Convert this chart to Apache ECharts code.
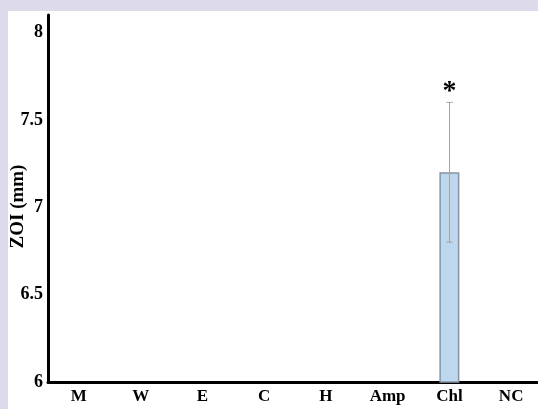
<!DOCTYPE html>
<html>
<head>
<meta charset="utf-8">
<script src="https://cdn.jsdelivr.net/npm/echarts@6/dist/echarts.min.js"></script>
<style>
html,body{margin:0;padding:0;background:#dddbeb;width:538px;height:409px;overflow:hidden;}
#bg{position:absolute;left:8px;top:11px;width:530px;height:398px;background:#fff;}
#chart{position:absolute;left:0;top:0;width:538px;height:409px;}
</style>
</head>
<body>
<div id="bg"></div>
<div id="chart"></div>
<script>
const categories = ['M','W','E','C','H','Amp','Chl','NC'];
const values = [null,null,null,null,null,null,7.2,null];
const errors = [null,null,null,null,null,null,0.4,null];
const marks = ['','','','','','','*',''];
const yTicks = [6,6.5,7,7.5,8];

const chart = echarts.init(document.getElementById('chart'));
const serif = '"Liberation Serif","Times New Roman",serif';
const errData = categories.map((c,i)=> values[i]==null ? null : [i, values[i]-errors[i], values[i]+errors[i], marks[i]]).filter(d=>d);

chart.setOption({
  backgroundColor:'transparent',
  animation:false,
  grid:{left:48,right:-4,top:15,bottom:27,containLabel:false,outerBoundsMode:'none'},
  xAxis:{
    type:'category',
    data:categories,
    axisLine:{lineStyle:{color:'#000',width:3}},
    axisTick:{show:false},
    axisLabel:{color:'#000',fontFamily:serif,fontWeight:'bold',fontSize:17,margin:6}
  },
  yAxis:{
    type:'value',
    min:6,max:8.1,interval:0.5,
    name:'ZOI (mm)',nameLocation:'middle',nameGap:20,nameMoveOverlap:false,
    nameTextStyle:{color:'#000',fontFamily:serif,fontWeight:'bold',fontSize:19,padding:[0,16,0,0]},
    axisLine:{show:true,lineStyle:{color:'#000',width:3}},
    axisTick:{show:false},
    splitLine:{show:false},
    axisLabel:{color:'#000',fontFamily:serif,fontWeight:'bold',fontSize:18,margin:5,
      formatter:v=> yTicks.some(t=>Math.abs(t-v)<1e-6) ? String(v) : ''}
  },
  series:[
    {type:'bar',data:values,barWidth:20,
     itemStyle:{color:'#bdd7ee',borderColor:'#8793a3',borderWidth:1.5}},
    {type:'custom',data:errData,z:5,
     renderItem:function(params,api){
       const x=api.value(0);
       const lo=api.coord([x,api.value(1)]);
       const hi=api.coord([x,api.value(2)]);
       const cx=Math.round(lo[0])+0.5;
       const c=3;
       return {type:'group',children:[
         {type:'line',shape:{x1:cx,y1:lo[1],x2:cx,y2:hi[1]},style:{stroke:'#a3a3a3',lineWidth:1}},
         {type:'line',shape:{x1:cx-c,y1:lo[1],x2:cx+c,y2:lo[1]},style:{stroke:'#a3a3a3',lineWidth:1}},
         {type:'line',shape:{x1:cx-c,y1:hi[1],x2:cx+c,y2:hi[1]},style:{stroke:'#a3a3a3',lineWidth:1}},
         {type:'text',style:{text:api.value(3),x:cx,y:hi[1]+3,align:'center',verticalAlign:'bottom',
           fill:'#000',font:'bold 28px "Liberation Serif", serif'}}
       ]};
     }}
  ]
});
</script>
</body>
</html>
